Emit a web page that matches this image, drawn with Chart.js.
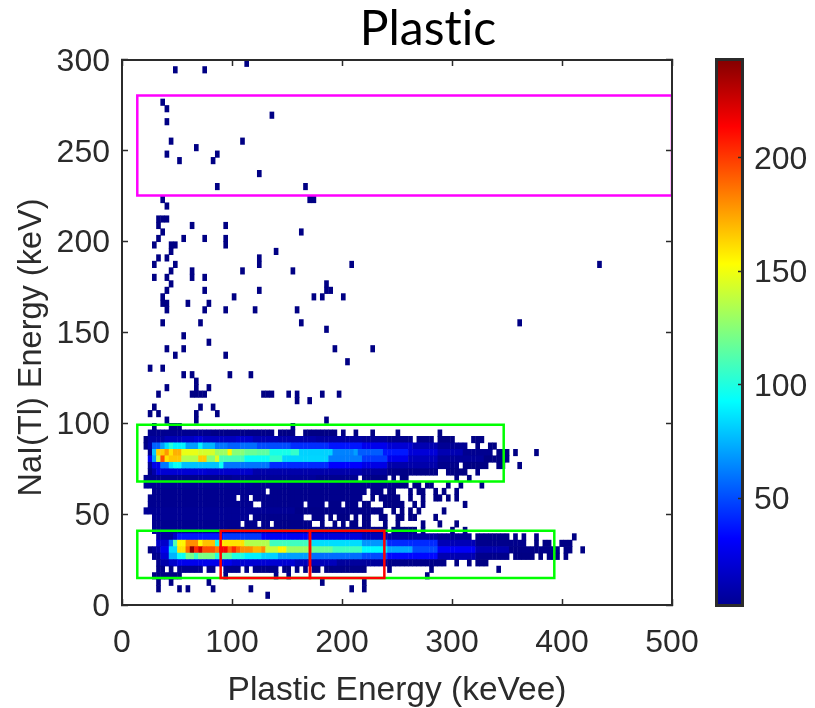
<!DOCTYPE html>
<html>
<head>
<meta charset="utf-8">
<title>Plastic</title>
<script src="https://cdn.jsdelivr.net/npm/chart.js@4"></script>
<style>
  html, body { margin: 0; background: #fff; overflow: hidden; }
  canvas { position: absolute; top: 0; }
</style>
</head>
<body>
<canvas id="heatmap" width="815" height="708" style="left:0"></canvas>
<canvas id="colorbar" width="115" height="708" style="left:700px"></canvas>
<script>
// histogram bin sizes and axis ticks
const X_BIN = 3.818;
const X_ORIGIN = 0.73;
const Y_BIN = 3.571;
const X_TICKS = [0, 100, 200, 300, 400, 500];
const Y_TICKS = [0, 50, 100, 150, 200, 250, 300];
const COUNT_MIN = 2;
const COUNT_MAX = 244;

// each row is a list of [first column, last column, counts]
const row26 = [[6,20,6],[21,35,4],[37,40,3],[43,50,3],[52,52,3],[55,55,3],[59,59,3],[65,65,3],[75,75,3]];
const row25 = [[5,5,3],[6,9,10],[10,13,15],[14,16,18],[17,18,22],[19,26,17],[27,30,20],[31,36,14],[37,45,12],[46,56,10],[57,62,8],[63,68,5],[70,73,4],[75,78,3],[83,85,3]];
const row24 = [[5,5,4],[6,6,12],[7,8,55],[9,9,70],[10,10,85],[11,11,100],[12,14,90],[15,17,70],[18,18,90],[19,21,75],[22,24,60],[25,27,55],[28,31,58],[32,39,50],[40,48,43],[49,56,37],[57,62,28],[63,68,22],[69,74,14],[75,81,7],[84,84,3],[87,88,3]];
const row23 = [[6,6,6],[7,7,80],[8,9,165],[10,10,178],[11,11,160],[12,13,172],[14,17,148],[18,21,143],[22,24,130],[25,25,155],[26,28,125],[29,31,118],[32,34,115],[35,39,98],[40,41,105],[42,49,82],[50,54,63],[55,55,70],[56,61,54],[62,67,38],[68,74,23],[75,80,14],[81,87,6],[89,91,3],[93,93,3],[98,98,3]];
const row22 = [[6,6,30],[7,7,70],[8,8,140],[9,9,195],[10,10,160],[11,13,167],[14,17,135],[18,19,165],[20,21,125],[22,22,145],[23,28,110],[29,34,95],[35,37,105],[38,48,83],[49,56,62],[57,62,46],[63,67,28],[68,74,16],[75,85,8],[86,91,3]];
const row21 = [[6,6,8],[7,8,27],[9,10,60],[11,11,85],[12,13,95],[14,22,78],[23,23,95],[24,34,60],[35,48,42],[49,56,32],[57,62,26],[63,74,12],[75,79,5],[81,86,3],[89,90,3],[94,94,3]];
const row20 = [[6,6,3],[7,7,12],[8,8,25],[9,19,22],[20,30,20],[31,56,12],[57,62,9],[63,74,4],[77,81,3],[84,84,3]];
const row19 = [[5,25,6],[26,45,8],[46,55,6],[57,62,4],[64,64,3],[66,67,3],[79,79,3],[82,82,3]];
const row18 = [[5,30,7],[31,50,6],[51,64,5],[65,67,3],[69,70,3],[72,73,3],[77,77,3],[80,80,3],[85,85,3]];
const row17 = [[7,33,6],[35,57,5],[59,61,4],[63,64,3],[68,68,3],[70,71,3],[74,74,3],[76,76,3],[79,79,3]];
const row16 = [[6,26,6],[28,29,6],[31,56,5],[59,59,3],[61,65,3],[68,68,3],[71,71,3],[74,75,3],[77,77,3],[79,79,3]];
const row15 = [[6,30,6],[33,42,5],[44,47,5],[49,51,4],[53,55,4],[57,58,3],[62,66,3],[69,69,3],[71,71,3],[81,81,3]];
const row14 = [[5,40,7],[41,61,4],[64,64,3],[66,66,3],[68,68,3],[70,70,3],[76,76,3]];
const row13 = [[7,29,7],[31,42,5],[45,47,4],[49,49,3],[51,53,3],[55,55,3],[57,58,3],[61,62,3],[65,66,3],[68,69,3],[74,74,3]];
const row12 = [[7,27,6],[29,31,5],[33,34,5],[36,44,4],[47,47,3],[50,50,3],[52,52,3],[54,55,3],[57,58,3],[62,62,3],[65,65,3],[71,71,3],[75,75,3],[79,79,3]];
const row11 = [[7,24,7],[25,61,5],[62,62,3],[64,69,3],[71,71,3],[78,78,3],[81,81,3]];
const row10 = [[8,11,10],[12,12,20],[13,23,38],[24,32,45],[33,44,30],[45,56,24],[57,62,16],[63,74,10],[75,82,6],[84,91,3],[93,93,3],[95,95,3],[98,98,3],[107,107,3]];
const row9 = [[8,10,20],[11,11,60],[12,12,110],[13,14,155],[15,17,180],[18,18,155],[19,21,168],[22,22,100],[23,28,160],[29,34,135],[35,44,108],[45,56,85],[57,62,68],[63,74,42],[75,83,15],[84,95,5],[98,98,3],[100,101,3],[104,106,3]];
const row8 = [[6,6,3],[7,7,8],[8,8,12],[9,10,28],[11,12,85],[13,14,160],[15,15,190],[16,16,240],[17,17,205],[18,18,225],[19,21,195],[22,22,185],[23,24,215],[25,25,190],[26,26,205],[27,27,190],[28,30,180],[31,32,170],[33,33,180],[34,36,140],[37,38,155],[39,44,130],[45,49,118],[50,56,108],[57,62,92],[63,68,72],[69,74,50],[75,83,30],[84,91,13],[92,103,4],[105,106,3],[109,109,3]];
const row7 = [[7,8,6],[9,10,22],[11,12,75],[13,14,95],[15,16,120],[17,17,105],[18,21,122],[22,22,100],[23,25,115],[26,28,100],[29,32,90],[33,36,82],[37,44,70],[45,56,58],[57,62,50],[63,74,34],[75,83,14],[84,91,5],[93,97,3],[99,99,3],[101,103,3],[105,105,3]];
const row6 = [[8,8,5],[9,10,12],[11,12,20],[13,25,28],[26,40,22],[41,50,16],[51,62,9],[63,76,4],[79,79,3],[82,82,3],[84,86,3]];
const row5 = [[8,9,4],[11,11,4],[13,18,6],[20,21,5],[24,27,5],[29,29,4],[31,36,4],[38,39,3],[41,41,3],[43,43,3],[45,46,3],[48,49,3],[50,56,4],[57,57,3],[63,63,3],[73,73,3],[89,89,3]];
const row4 = [[7,13,3],[24,24,3],[36,36,3],[39,39,3],[72,72,3]];

const bandRowIndex = [26,25,24,23,22,21,20,19,18,17,16,15,14,13,12,11,10,9,8,7,6,5,4];
const bandRows = [row26,row25,row24,row23,row22,row21,row20,row19,row18,row17,row16,row15,row14,row13,row12,row11,row10,row9,row8,row7,row6,row5,row4];

// scattered single-count bins: row index and the columns filled in it
const sparseRowIndex = [83,82,77,76,75,74,71,70,69,68,66,64,62,61,59,58,57,56,55,54,53,52,51,50,49,48,47,46,45,43,42,41,40,39,38,37,36,35,34,33,32,31,30,29,28,27,3,2,1];
const sparseColumns = [[29],[12,19],[9],[10],[35],[10],[11,28],[17],[10,22],[13,21],[32],[22,43],[9,44,45],[10],[8,9,10],[8,16,24],[9,42],[8,14,19,24],[7,11,12,24],[11,36],[8,10,32],[7,12,32,54,113],[11,16,28,40],[7,10,16,19],[11,48],[10,19,32,48,49],[9,26,45,47,52],[9,10,15,20],[10,19,24,31,41],[9,18,42,94],[48],[14],[20],[10,14,50,59],[12,24],[53],[6,9],[14,16,25,30],[17],[10,17,20],[8,16,17,18,19,33,34,35,39,41,47,51],[41,44],[7,18,21],[6,8,17,22],[10,17,48],[7,11,12,13,40],[8,11,20,47,57],[8,13,15,21,30,54,57],[34]];

// selection boxes, in keVee and keV
const magentaBoxX = [13.9, 500, 500, 13.9, 13.9];
const magentaBoxY = [280.4, 280.4, 225.4, 225.4, 280.4];
const upperGreenBoxX = [13.9, 347, 347, 13.9, 13.9];
const upperGreenBoxY = [99.2, 99.2, 68, 68, 99.2];
const lowerGreenBoxX = [13.9, 393, 393, 13.9, 13.9];
const lowerGreenBoxY = [40.9, 40.9, 14.9, 14.9, 40.9];
const redBoxAX = [89.7, 170.9, 170.9, 89.7, 89.7];
const redBoxBX = [170.9, 238.5, 238.5, 170.9, 170.9];
const redBoxY = [40.9, 40.9, 14.9, 14.9, 40.9];

const JET_STOPS = [[0,'#00008f'],[0.125,'#0000ff'],[0.375,'#00ffff'],[0.625,'#ffff00'],[0.875,'#ff0000'],[1,'#800000']];
const INK = '#2b2b2b';
const SANS = '"Liberation Sans", Arial, sans-serif';
const TICK_FONT = { family: SANS, size: 32 };

function jetColor(count) {
  let t = (count - COUNT_MIN) / (COUNT_MAX - COUNT_MIN);
  let part = (a, b) => Math.round(255 * Math.max(0, Math.min(1, Math.min(a, b))));
  return `rgb(${part(4*t-1.5, 4.5-4*t)},${part(4*t-0.5, 3.5-4*t)},${part(4*t+0.5, 2.5-4*t)})`;
}

function cell(column, row, count) {
  return { x: X_ORIGIN + (column + 0.5) * X_BIN, y: [row * Y_BIN, (row + 1) * Y_BIN], count: count };
}

function buildCells() {
  let cells = [];
  for (let r = 0; r < bandRows.length; ++r) {
    for (let run of bandRows[r]) {
      for (let c = run[0]; c <= run[1]; ++c) cells.push(cell(c, bandRowIndex[r], run[2]));
    }
  }
  for (let r = 0; r < sparseRowIndex.length; ++r) {
    for (let c of sparseColumns[r]) cells.push(cell(c, sparseRowIndex[r], 3));
  }
  return cells;
}

function boxDataset(xs, ys, color, order) {
  return {
    type: 'line',
    data: xs.map((x, i) => ({ x: x, y: ys[i] })),
    borderColor: color,
    borderWidth: 2.5,
    borderCapStyle: 'square',
    pointRadius: 0,
    tension: 0,
    order: order
  };
}

// frame axes: ticks point inward, hence the negative tick length
function frameAxis(position, min, max, ticks, extra) {
  return Object.assign({
    type: 'linear',
    position: position,
    min: min,
    max: max,
    offset: false,
    border: { color: INK, width: 2, z: 2 },
    grid: { drawOnChartArea: false, offset: false, tickLength: -6, tickColor: INK, tickWidth: 1.5, z: 2 },
    afterBuildTicks: (scale) => { scale.ticks = ticks.map(v => ({ value: v })); }
  }, extra);
}

// the title and the y label do not sit centred on the plot in the original
const shiftLabels = {
  id: 'shiftLabels',
  afterLayout(chart) {
    chart.titleBlock.left += 184;
    let y = chart.scales.y;
    let drawTitle = y.drawTitle;
    y.drawTitle = function() {
      this.top += 30;
      drawTitle.call(this);
      this.top -= 30;
    };
  },
  beforeDraw(chart) {
    chart.ctx.textRendering = 'optimizeSpeed';
  }
};

new Chart(document.getElementById('heatmap'), {
  type: 'bar',
  data: {
    datasets: [
      boxDataset(magentaBoxX, magentaBoxY, '#ff00ff', 2),
      boxDataset(upperGreenBoxX, upperGreenBoxY, '#00ff00', 2),
      boxDataset(lowerGreenBoxX, lowerGreenBoxY, '#00ff00', 2),
      boxDataset(redBoxAX, redBoxY, '#ff0000', 1),
      boxDataset(redBoxBX, redBoxY, '#ff0000', 1),
      {
        data: buildCells(),
        backgroundColor: (ctx) => jetColor(ctx.raw ? ctx.raw.count : COUNT_MIN),
        barThickness: 4,
        borderWidth: 0,
        order: 3
      }
    ]
  },
  options: {
    responsive: false,
    animation: false,
    layout: { padding: { right: 143, bottom: 0 } },
    plugins: {
      legend: { display: false },
      tooltip: { enabled: false },
      title: {
        display: true,
        text: 'Plastic',
        color: '#000',
        font: { family: 'Lato', size: 48, weight: 'normal' },
        padding: { top: 1, bottom: 1.4 }
      }
    },
    scales: {
      x: frameAxis('bottom', 0, 500, X_TICKS, {
        afterFit: (s) => { s.height = 103; },
        ticks: { font: TICK_FONT, color: INK, padding: 25, maxRotation: 0, autoSkip: false },
        title: { display: true, text: 'Plastic Energy (keVee)', color: INK, font: { family: SANS, size: 33.5 }, padding: { top: 0, bottom: -3 } }
      }),
      y: frameAxis('left', 0, 300, Y_TICKS, {
        afterFit: (s) => { s.width = 122; },
        ticks: { font: TICK_FONT, color: INK, padding: 18, labelOffset: 2, autoSkip: false },
        title: { display: true, text: 'NaI(Tl) Energy (keV)', color: INK, font: { family: SANS, size: 32.5 }, padding: { top: 13, bottom: 0 } }
      }),
      x2: frameAxis('top', 0, 500, X_TICKS, { afterFit: (s) => { s.height = 0; }, ticks: { display: false } }),
      y2: frameAxis('right', 0, 300, Y_TICKS, { afterFit: (s) => { s.width = 0; }, ticks: { display: false } })
    }
  },
  plugins: [shiftLabels]
});

function colorbarFill(ctx) {
  let area = ctx.chart.chartArea;
  if (!area) return '#00008f';
  let gradient = ctx.chart.ctx.createLinearGradient(0, area.bottom, 0, area.top);
  for (let stop of JET_STOPS) gradient.addColorStop(stop[0], stop[1]);
  return gradient;
}

new Chart(document.getElementById('colorbar'), {
  type: 'bar',
  data: {
    labels: [''],
    datasets: [{
      data: [[COUNT_MIN, COUNT_MAX]],
      backgroundColor: colorbarFill,
      borderColor: INK,
      borderWidth: 3,
      borderSkipped: false,
      barPercentage: 1,
      categoryPercentage: 1,
      inflateAmount: 0
    }]
  },
  options: {
    responsive: false,
    animation: false,
    layout: { padding: { left: 15, top: 58, bottom: 101 } },
    plugins: { legend: { display: false }, tooltip: { enabled: false }, title: { display: false } },
    scales: {
      x: { display: true, grid: { display: false }, ticks: { display: false }, border: { display: false }, afterFit: (s) => { s.height = 0; } },
      y: {
        position: 'right',
        min: COUNT_MIN,
        max: COUNT_MAX,
        border: { display: false },
        grid: { drawOnChartArea: false, tickLength: -6, tickColor: INK, tickWidth: 1.5, z: 2 },
        ticks: { font: TICK_FONT, color: INK, padding: 16, labelOffset: 2, stepSize: 50, includeBounds: false },
        afterFit: (s) => { s.width = 71; }
      }
    }
  }
});
</script>
</body>
</html>
